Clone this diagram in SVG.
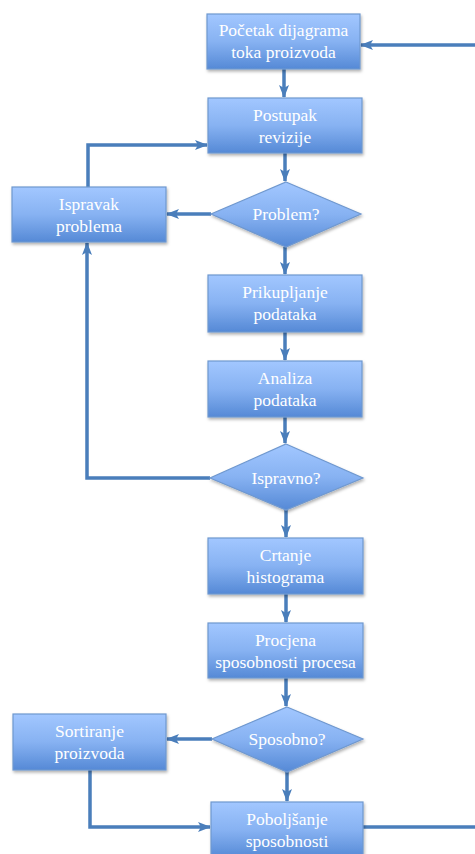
<svg xmlns="http://www.w3.org/2000/svg" width="475" height="854" viewBox="0 0 475 854">
<defs>
<linearGradient id="g" x1="0" y1="0" x2="0" y2="1">
<stop offset="0" stop-color="#a2c7ff"/>
<stop offset="0.5" stop-color="#87b2f2"/>
<stop offset="1" stop-color="#5589d6"/>
</linearGradient>
<filter id="sh" x="-10%" y="-10%" width="125%" height="130%">
<feDropShadow dx="1" dy="2" stdDeviation="1.5" flood-color="#000" flood-opacity="0.3"/>
</filter>
<marker id="ah" markerUnits="userSpaceOnUse" markerWidth="14" markerHeight="12" refX="12" refY="5" orient="auto" viewBox="0 0 14 10">
<path d="M0,0 L13,5 L0,10 L3,5 z" fill="#4a7ebb"/>
</marker>
</defs>
<style>
.n{fill:url(#g);stroke:#6f98cf;stroke-width:1.2;filter:url(#sh)}
.t{font-family:'Liberation Serif','DejaVu Serif',serif;font-size:17.5px;fill:#ffffff;text-anchor:middle}
.c{fill:none;stroke:#4a7ebb;stroke-width:3.5;stroke-linejoin:miter}
.a{marker-end:url(#ah)}
</style>
<rect width="475" height="854" fill="#ffffff"/>
<g id="connectors">
<path class="c a" d="M284,69 L284,97"/>
<path class="c a" d="M285,153 L285,181"/>
<path class="c a" d="M285,247 L285,274"/>
<path class="c a" d="M285,332 L285,360"/>
<path class="c a" d="M285,417 L285,443"/>
<path class="c a" d="M286,510 L286,537"/>
<path class="c a" d="M286,594 L286,622"/>
<path class="c a" d="M286,678 L286,706"/>
<path class="c a" d="M287,772 L287,801"/>
<path class="c a" d="M211,214 L167,214"/>
<path class="c a" d="M210,478 L87,478 L87,243"/>
<path class="c a" d="M88,187 L88,145 L207,145"/>
<path class="c a" d="M212,739 L167,739"/>
<path class="c a" d="M90,770 L90,827 L210,827"/>
<path class="c" d="M363,827 L476,827"/>
<path class="c a" d="M476,45 L361,45"/>
</g>
<g id="n1"><rect class="n" x="207" y="14" width="153" height="55"/><text class="t" x="283.5" y="36">Početak dijagrama</text><text class="t" x="283.5" y="58">toka proizvoda</text></g>
<g id="n2"><rect class="n" x="208" y="98" width="154" height="55"/><text class="t" x="285" y="121">Postupak</text><text class="t" x="285" y="143">revizije</text></g>
<g id="d1"><polygon class="n" points="286,182 361,214 286,247 211,214"/><text class="t" x="286" y="220">Problem?</text></g>
<g id="n3"><rect class="n" x="12" y="187" width="154" height="55"/><text class="t" x="89" y="210">Ispravak</text><text class="t" x="89" y="232">problema</text></g>
<g id="n4"><rect class="n" x="208" y="275" width="154" height="57"/><text class="t" x="285" y="298">Prikupljanje</text><text class="t" x="285" y="320">podataka</text></g>
<g id="n5"><rect class="n" x="208" y="361" width="154" height="56"/><text class="t" x="285" y="384">Analiza</text><text class="t" x="285" y="406">podataka</text></g>
<g id="d2"><polygon class="n" points="286,444 363,478 286,510 210,478"/><text class="t" x="286" y="484">Ispravno?</text></g>
<g id="n6"><rect class="n" x="208" y="538" width="155" height="56"/><text class="t" x="285.5" y="561">Crtanje</text><text class="t" x="285.5" y="583">histograma</text></g>
<g id="n7"><rect class="n" x="208" y="623" width="155" height="55"/><text class="t" x="285.5" y="646">Procjena</text><text class="t" x="285.5" y="668">sposobnosti procesa</text></g>
<g id="d3"><polygon class="n" points="287,707 363,739 287,772 212,739"/><text class="t" x="287" y="745">Sposobno?</text></g>
<g id="n8"><rect class="n" x="13" y="714" width="153" height="56"/><text class="t" x="89.5" y="737">Sortiranje</text><text class="t" x="89.5" y="759">proizvoda</text></g>
<g id="n9"><rect class="n" x="211" y="802" width="152" height="56"/><text class="t" x="287" y="825">Poboljšanje</text><text class="t" x="287" y="847">sposobnosti</text></g>
</svg>
